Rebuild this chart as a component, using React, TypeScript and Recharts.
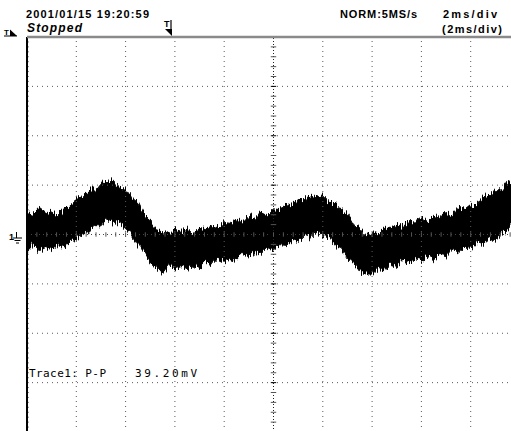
import React from 'react';
import { ComposedChart, Area, XAxis, YAxis, ReferenceLine } from 'recharts';

// Sample times (ms), 2 ms/div, 10 divisions
const timeMs = [
  0, 0.25, 0.5, 0.75, 1, 1.25, 1.5, 1.75, 2, 2.25, 2.5, 2.75, 3, 3.25, 3.5, 3.75,
  4, 4.25, 4.5, 4.75, 5, 5.25, 5.5, 5.75, 6, 6.25, 6.5, 6.75, 7, 7.25, 7.5, 7.75,
  8, 8.25, 8.5, 8.75, 9, 9.25, 9.5, 9.75, 10, 10.25, 10.5, 10.75, 11, 11.25, 11.5, 11.75,
  12, 12.25, 12.5, 12.75, 13, 13.25, 13.5, 13.75, 14, 14.25, 14.5, 14.75, 15, 15.25, 15.5, 15.75,
  16, 16.25, 16.5, 16.75, 17, 17.25, 17.5, 17.75, 18, 18.25, 18.5, 18.75, 19, 19.25, 19.5, 19.75,
];

// Upper envelope of the noisy trace (mV)
const upperMv = [
  8.5, 7.8, 10.6, 8.7, 9.5, 7.7, 10.5, 10.6, 14.7, 15.2, 18.0, 18.0, 21.2, 21.0, 22.0, 18.7,
  18.4, 14.9, 12.9, 7.6, 5.5, 1.4, 1.2, 0.0, 2.1, 1.3, 2.6, 0.6, 2.4, 2.0, 3.6, 2.7,
  4.9, 4.5, 6.3, 5.1, 7.7, 7.0, 9.2, 8.0, 10.4, 10.1, 12.2, 11.5, 14.2, 14.1, 16.0, 15.2,
  15.6, 13.0, 12.9, 9.7, 8.6, 4.0, 2.7, -0.6, 0.8, -0.2, 2.5, 2.5, 4.1, 3.2, 5.2, 5.1,
  6.7, 5.3, 7.8, 6.9, 8.9, 8.0, 10.7, 9.8, 11.8, 11.7, 15.4, 15.7, 17.8, 17.6, 21.2, 22.6,
];

// Lower envelope of the noisy trace (mV)
const lowerMv = [
  -6.7, -4.4, -6.6, -5.3, -6.1, -4.5, -5.3, -2.5, -2.0, 1.2, 1.1, 3.6, 3.5, 6.6, 4.9, 5.3,
  1.9, 0.3, -4.0, -6.5, -11.4, -13.1, -16.0, -12.6, -13.9, -13.0, -14.3, -12.5, -13.8, -11.3, -12.3, -9.7,
  -10.9, -9.4, -10.2, -7.7, -9.1, -6.9, -7.7, -5.3, -6.2, -4.1, -4.4, -1.9, -2.9, -0.4, -1.0, 1.2,
  -0.8, -1.3, -4.5, -5.3, -9.3, -11.4, -15.1, -16.0, -16.0, -13.8, -14.3, -12.1, -12.9, -10.5, -11.9, -9.8,
  -10.5, -8.5, -9.8, -8.1, -8.5, -6.0, -7.1, -4.9, -5.7, -3.2, -4.1, -2.1, -2.4, 0.8, 1.9, 5.6,
];

const gridTimesMs = [2, 4, 6, 8, 12, 14, 16, 18];
const gridLevelsMv = [-60, -40, -20, 20, 40, 60];
const centerTimeMs = 10;
const timeDomain = [0, 20];
const levelDomain = [-80, 80];

const headerDate = '2001/01/15  19:20:59';
const headerMode = 'NORM:5MS/s';
const headerScale = '2ms/div';
const headerScale2 = '(2ms/div)';
const statusText = 'Stopped';
const measureLabel = 'Trace1: P-P';
const measureValue = '39.20mV';

const data = timeMs.map((t, i) => ({ t, band: [lowerMv[i], upperMv[i]] }));

// minor graticule ticks (1/5 division)
const minorLevels: number[] = [];
for (let v = -76; v <= 76; v += 4) minorLevels.push(v);
const minorTimes: number[] = [];
for (let k = 1; k < 50; k++) minorTimes.push(Math.round(k * 0.4 * 100) / 100);
const leftTicks: number[] = [];
for (let v = -78; v <= 78; v += 2) leftTicks.push(v);

const FONT = '"Liberation Sans", Arial, sans-serif';
const MONO = '"DejaVu Sans Mono", "Liberation Mono", monospace';
const GRID = '#5a5a5a';

export default function App() {
  return (
    <div style={{ position: 'fixed', left: 0, top: 0, width: 511, height: 431, overflow: 'hidden', background: '#fff' }}>
      <style>{'.fuzz{filter:url(#fuzz)}'}</style>
      <svg width={0} height={0} style={{ position: 'absolute' }}>
        <defs>
          <filter id="fuzz" x="-3%" y="-30%" width="106%" height="160%">
            <feTurbulence type="fractalNoise" baseFrequency="0.8 0.04" numOctaves={2} seed={7} result="noise" />
            <feComponentTransfer in="noise" result="noiseY">
              <feFuncR type="linear" slope={0} intercept={0.5} />
            </feComponentTransfer>
            <feDisplacementMap in="SourceGraphic" in2="noiseY" scale={14} xChannelSelector="R" yChannelSelector="G" />
          </filter>
        </defs>
      </svg>
      <div style={{ position: 'absolute', left: 0, top: 0 }}>
        <ComposedChart width={540} height={450} data={data} margin={{ top: 37, right: 20, bottom: 18, left: 27 }}>
          <XAxis dataKey="t" type="number" domain={timeDomain} hide allowDataOverflow />
          <YAxis type="number" domain={levelDomain} hide allowDataOverflow />
          {gridTimesMs.map((t) => (
            <ReferenceLine key={'gx' + t} x={t} stroke={GRID} strokeWidth={1} strokeDasharray="1 4" />
          ))}
          {gridLevelsMv.map((v) => (
            <ReferenceLine key={'gy' + v} y={v} stroke={GRID} strokeWidth={1} strokeDasharray="1 4" />
          ))}
          <ReferenceLine x={centerTimeMs} stroke="#222" strokeWidth={1} strokeDasharray="1 2" />
          <ReferenceLine y={0} stroke="#444" strokeWidth={1} strokeDasharray="1 3" />
          {minorLevels.map((v) => (
            <ReferenceLine key={'mv' + v} segment={[{ x: centerTimeMs - 0.11, y: v }, { x: centerTimeMs + 0.11, y: v }]} stroke={v % 20 === 0 ? '#000' : '#555'} strokeWidth={1} />
          ))}
          {minorTimes.map((t) => (
            <ReferenceLine key={'mt' + t} segment={[{ x: t, y: -0.9 }, { x: t, y: 0.9 }]} stroke="#555" strokeWidth={1} />
          ))}
          <Area
            className="fuzz"
            dataKey="band"
            type="linear"
            stroke="#000"
            strokeWidth={1}
            fill="#000"
            fillOpacity={1}
            isAnimationActive={false}
            dot={false}
            activeDot={false}
          />
          <ReferenceLine x={0} stroke="#000" strokeWidth={2} />
          {leftTicks.map((v) => (
            <ReferenceLine key={'lt' + v} segment={[{ x: 0, y: v }, { x: 0.06, y: v }]} stroke="#000" strokeWidth={1} />
          ))}
          <ReferenceLine y={80} stroke="#8a8a8a" strokeWidth={2.5} />
        </ComposedChart>
      </div>
      <svg width={511} height={431} style={{ position: 'absolute', left: 0, top: 0, pointerEvents: 'none' }}>
        <text x={26} y={18} fontFamily={FONT} fontSize={11} fontWeight="bold" textLength={123} lengthAdjust="spacing" fill="#000">{headerDate}</text>
        <text x={340} y={18} fontFamily={FONT} fontSize={11} fontWeight="bold" textLength={77} lengthAdjust="spacing" fill="#000">{headerMode}</text>
        <text x={443} y={18} fontFamily={FONT} fontSize={11} fontWeight="bold" textLength={54} lengthAdjust="spacing" fill="#000">{headerScale}</text>
        <text x={442} y={33} fontFamily={FONT} fontSize={11} fontWeight="bold" textLength={60} lengthAdjust="spacing" fill="#000">{headerScale2}</text>
        <text x={27} y={32} fontFamily={FONT} fontSize={12} fontWeight="bold" fontStyle="italic" textLength={55} lengthAdjust="spacing" fill="#000">{statusText}</text>
        <text x={29} y={377} fontFamily={MONO} fontSize={11} textLength={77} lengthAdjust="spacing" fill="#000">{measureLabel}</text>
        <text x={135} y={377} fontFamily={MONO} fontSize={11} textLength={62} lengthAdjust="spacing" fill="#000">{measureValue}</text>
        {/* trigger level marker */}
        <text x={4} y={35} fontFamily={FONT} fontSize={8} fontWeight="bold" fill="#000">T</text>
        <line x1={4} y1={36} x2={17} y2={36} stroke="#000" strokeWidth={1} />
        <path d="M10 29.5 L10 36 L17 36 Z" fill="#000" />
        {/* trigger position marker */}
        <text x={164} y={27} fontFamily={FONT} fontSize={9} fontWeight="bold" fill="#000">T</text>
        <path d="M171 20 L171 29" stroke="#000" strokeWidth={1.2} fill="none" />
        <path d="M165 29 L172 29 L172 36 Z" fill="#000" />
        {/* ground marker */}
        <text x={9} y={240} fontFamily={FONT} fontSize={9} fontWeight="bold" fill="#000">1</text>
        <path d="M16.5 232 L16.5 238 M13 238 L22 238 M14.5 240.5 L20.5 240.5 M16 243 L19 243" stroke="#000" strokeWidth={1} fill="none" />
      </svg>
    </div>
  );
}
